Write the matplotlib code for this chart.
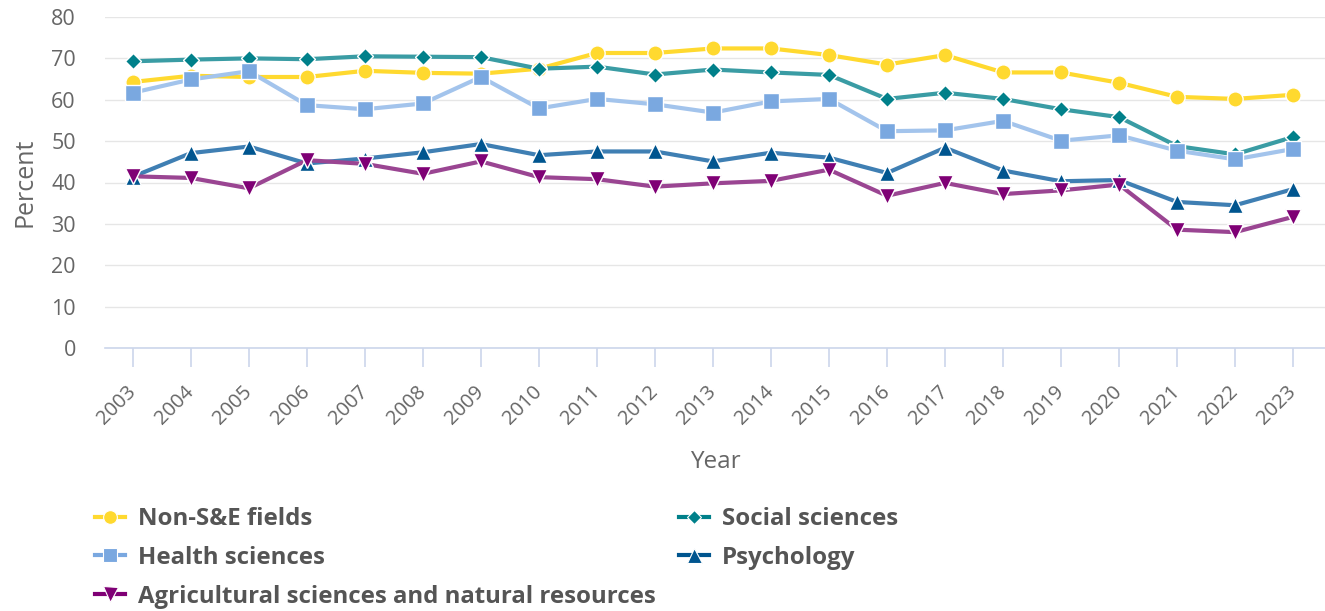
import numpy as np
import matplotlib.pyplot as plt
from matplotlib.lines import Line2D

plt.rcParams['font.family'] = ['Open Sans', 'DejaVu Sans']

# data
years = list(range(2003, 2024))
non_se = [64.3, 65.8, 65.5, 65.5, 67.0, 66.5, 66.3, 67.5, 71.3, 71.3, 72.4, 72.4,
          70.8, 68.5, 70.8, 66.6, 66.6, 64.1, 60.7, 60.2, 61.2]
social = [69.3, 69.7, 70.0, 69.8, 70.5, 70.4, 70.3, 67.5, 68.0, 66.1, 67.3, 66.6,
          66.0, 60.2, 61.7, 60.2, 57.7, 55.8, 48.8, 46.8, 51.0]
health = [61.7, 64.9, 66.9, 58.7, 57.7, 59.1, 65.5, 57.9, 60.2, 58.9, 56.9, 59.6,
          60.2, 52.4, 52.6, 54.9, 50.1, 51.4, 47.7, 45.6, 48.1]
psych = [41.4, 47.1, 48.7, 44.6, 45.8, 47.3, 49.3, 46.6, 47.5, 47.5, 45.1, 47.2,
         46.0, 42.3, 48.4, 42.9, 40.3, 40.6, 35.3, 34.5, 38.4]
agri = [41.5, 41.1, 38.6, 45.4, 44.5, 42.1, 45.1, 41.3, 40.8, 39.0, 39.8, 40.4,
        43.1, 36.8, 39.9, 37.2, 38.1, 39.5, 28.6, 28.0, 31.7]

series = [
    ("Non-S&E fields", non_se, "#FFD92F", "#FFD92F", "o", 11),
    ("Social sciences", social, "#3A9CA4", "#00808A", "D", 8),
    ("Health sciences", health, "#A3C4EC", "#7AA8E0", "s", 11),
    ("Psychology", psych, "#3F7FB3", "#00558F", "^", 12),
    ("Agricultural sciences and natural resources", agri, "#9A4592", "#7F0075", "v", 12),
]

fig = plt.figure(figsize=(13.25, 6.11), dpi=100)
ax = fig.add_axes([105 / 1325, 1 - 348 / 611, 1220 / 1325, 331 / 611])

handles = {}
for name, vals, lc, mc, mk, ms in series:
    ax.plot(years, vals, color=lc, lw=3, zorder=2)
    ax.plot(years, vals, ls='none', marker=mk, ms=ms, mfc=mc, mec='white', mew=1, zorder=3)
    handles[name] = Line2D([], [], color=mc, lw=3, marker=mk, ms=ms * 0.9,
                           mfc=mc, mec='white', mew=0.8)

ax.set_xlim(2002.52, 2023.55)
ax.set_ylim(0, 80)
ax.set_yticks(range(0, 90, 10))
ax.set_xticks(years)
ax.set_xticklabels([str(y) for y in years], rotation=45, ha='right', va='center',
                   rotation_mode='anchor')
ax.grid(axis='y', color='#e6e6e6', lw=1)
ax.set_axisbelow(True)
for s in ['top', 'right', 'left']:
    ax.spines[s].set_visible(False)
ax.spines['bottom'].set_color('#ccd6eb')
ax.spines['bottom'].set_linewidth(1.2)
ax.tick_params(axis='x', length=13.5, width=1.2, color='#ccd6eb', pad=16,
               labelsize=14.5, labelcolor='#666666')
ax.tick_params(axis='y', length=0, pad=21, labelsize=15.5, labelcolor='#666666')

ax.set_ylabel("Percent", fontsize=18, color='#666666', labelpad=10)
ax.set_xlabel("Year", fontsize=17.5, color='#666666', labelpad=15)

leg_kw = dict(frameon=False, labelcolor='#555555', handlelength=1.25,
              handletextpad=0.55, labelspacing=0.62, borderpad=0, borderaxespad=0,
              prop={'weight': 'bold', 'size': 17.3})
names = [s[0] for s in series]
l1 = fig.legend([handles[n] for n in (names[0], names[2], names[4])],
                [names[0], names[2], names[4]], loc='upper left',
                bbox_to_anchor=(95 / 1325, 1 - 507 / 611), **leg_kw)
l2 = fig.legend([handles[n] for n in (names[1], names[3])],
                [names[1], names[3]], loc='upper left',
                bbox_to_anchor=(679 / 1325, 1 - 507 / 611), **leg_kw)

fig.savefig('out.png', dpi=100)
